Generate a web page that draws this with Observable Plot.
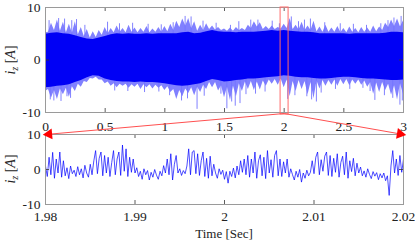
<!DOCTYPE html>
<html><head><meta charset="utf-8">
<script src="https://cdn.jsdelivr.net/npm/d3@7"></script>
<script src="https://cdn.jsdelivr.net/npm/@observablehq/plot@0.6"></script>
<style>
html,body{margin:0;padding:0;background:#fff;}
#chart{position:relative;width:415px;height:240px;overflow:hidden;font-family:"Liberation Serif",serif;}
#chart svg{position:absolute;left:0;top:0;}
.lab{position:absolute;font-family:"Liberation Serif",serif;color:#222;white-space:nowrap;line-height:1;}
.ylab{font-size:14px;transform:translate(-50%,-50%) rotate(-90deg);}
.xlab{font-size:13px;transform:translate(-50%,-50%);}
</style></head><body><div id="chart"></div>
<script>
// ---------- data ----------
// overview panel: envelope peaks of the current, every 0.05 s from 0 to 3 s
const topT0 = 0, topStep = 0.05;
const topUpperLight = [5.2,7.0,7.6,7.2,6.8,7.3,6.2,5.8,5.4,5.6, 6.2,6.0,6.5,6.0,6.6,6.1,6.0,6.4,5.9,6.2, 6.4,6.8,7.4,7.8,7.9,7.3,6.6,6.9,6.5,6.2, 5.9,6.1,6.2,6.0,6.6,7.3,7.1,6.4,6.5,6.2, 6.8,7.9,6.6,7.2,6.5,7.4,6.3,6.6,6.1,6.4, 6.0,6.3,6.0,6.2,6.1,6.5,6.3,7.0,7.6,7.8, 7.5];
const topLowerLight = [-6.0,-7.3,-7.5,-6.6,-7.1,-6.0,-5.2,-4.3,-3.6,-3.8, -4.5,-5.0,-5.3,-5.0,-5.4,-5.2,-5.6,-5.3,-5.5,-5.4, -5.8,-6.2,-7.5,-7.0,-6.4,-6.8,-6.2,-5.6,-5.3,-5.9, -7.2,-7.7,-7.0,-6.0,-5.6,-5.8,-5.7,-5.0,-4.6,-4.8, -5.3,-7.0,-6.0,-5.6,-6.6,-7.4,-5.5,-5.0,-4.8,-5.0, -4.7,-4.9,-4.6,-4.8,-5.2,-6.5,-6.2,-5.8,-6.7,-7.6, -6.5];
// envelope valleys, midway between the peaks (t = 0.025, 0.075, ...)
const topUpperValley = [5.3,5.6,5.5,5.2,5.1,4.8,4.5,4.2,4.3,4.7, 5.0,5.2,5.3,5.2,5.3,5.2,5.3,5.2,5.3,5.3, 5.4,5.6,6.2,6.5,6.0,5.5,5.6,5.8,5.7,5.6, 5.5,5.5,5.6,5.6,6.0,6.3,5.8,5.8,5.8,5.9, 6.0,5.8,5.7,5.6,5.6,5.4,5.3,5.3,5.3,5.2, 5.2,5.3,5.2,5.3,5.3,5.4,5.6,6.2,6.4,6.3];
const topLowerValley = [-5.6,-5.8,-5.5,-5.4,-5.1,-4.6,-4.1,-3.5,-3.3,-3.8, -4.2,-4.5,-4.6,-4.6,-4.7,-4.6,-4.7,-4.7,-4.8,-4.9, -5.1,-5.6,-5.8,-5.5,-5.3,-5.2,-4.8,-4.3,-4.3,-4.9, -5.2,-5.0,-4.5,-4.2,-4.1,-4.2,-4.0,-3.8,-3.7,-3.6, -3.8,-4.1,-3.9,-4.1,-4.3,-4.0,-3.9,-3.9,-3.8,-3.7, -3.7,-3.8,-3.8,-4.0,-4.3,-4.4,-4.3,-4.6,-4.9,-4.5];
// dense core of the signal, every 0.05 s
const topUpperDark = [4.9,5.1,5.2,5.0,4.9,4.6,4.3,4.0,3.9,4.2, 4.5,4.8,5.0,4.9,5.0,4.9,4.9,5.0,4.9,5.0, 5.0,5.0,5.0,5.2,5.3,5.0,5.1,5.4,5.6,5.4, 5.3,5.3,5.2,5.3,5.3,5.3,5.4,5.5,5.6,5.5, 5.6,5.5,5.4,5.3,5.3,5.2,5.0,5.0,5.0,5.0, 5.0,4.9,5.0,5.0,5.0,5.0,5.0,5.1,5.3,5.3, 5.2];
const topLowerDark = [-5.3,-5.2,-5.0,-4.9,-4.7,-4.3,-3.9,-3.4,-3.0,-3.1, -3.6,-3.9,-4.1,-4.2,-4.2,-4.3,-4.2,-4.3,-4.3,-4.4, -4.5,-4.7,-4.9,-5.0,-4.9,-4.7,-4.5,-4.1,-3.7,-3.9, -4.2,-4.1,-3.9,-3.8,-3.6,-3.6,-3.5,-3.4,-3.3,-3.2, -3.0,-3.1,-3.3,-3.4,-3.4,-3.5,-3.6,-3.6,-3.5,-3.4, -3.3,-3.3,-3.4,-3.5,-3.6,-3.6,-3.7,-3.8,-3.9,-3.9, -3.8];
// isolated spikes beyond the envelope
const spikeTimes  = [0.03,0.04,0.07,0.11,0.13,0.16,0.18,0.21,0.22,0.26,0.33,0.52,0.58,0.62,0.69,0.73,0.83,0.86,0.95,0.97,1.04,1.07,1.14,1.17,1.19,1.22,1.27,1.32,1.33,1.43,1.47,1.52,1.55,1.56,1.59,1.62,1.63,1.68,1.72,1.76,1.78,1.84,1.90,1.96,2.03,2.06,2.09,2.12,2.17,2.19,2.22,2.23,2.27,2.31,2.34,2.43,2.47,2.55,2.58,2.66,2.69,2.72,2.76,2.81,2.84,2.87,2.91,2.92,2.97,2.98,2.99];
const spikeValues = [7.5,-7.6,-7.8,7.9,-7.9,7.8,-7.0,-7.3,7.5,7.7,6.6,7.2,-5.9,6.9,-6.0,7.0,-6.2,6.8,-6.1,6.7,-6.8,7.1,-7.8,8.3,-7.4,8.2,-9.4,7.4,-6.9,7.0,-6.5,-9.3,6.6,-8.0,-8.8,7.3,-8.3,-6.6,7.6,-6.5,7.6,-6.1,7.4,6.9,-7.5,8.2,-6.8,7.3,7.6,-7.0,7.8,-7.6,-8.0,-6.3,7.1,-5.6,6.9,-5.6,6.8,-5.4,6.6,-6.0,-7.7,6.9,-6.8,7.5,-7.3,8.0,-8.6,8.3,-7.8];

// zoomed panel: samples every 0.2 ms from 1.98 s to 2.02 s
const zoomT0 = 1.98, zoomStep = 0.0002;
const zoomValues = [
 1.0,-2.0,3.5,-1.5,4.9,-2.5,3.0,-1.0,5.0,-2.2,
 2.5,-1.8,0.5,-2.6,1.0,-1.2,-0.2,-2.0,0.8,-1.5,
 0.2,-2.4,1.2,-1.0,-2.2,1.5,-1.5,2.5,5.4,-1.2,
 3.2,5.0,-1.8,4.0,-1.0,3.5,-2.0,2.0,5.4,-1.5,
 3.0,5.0,-1.7,7.0,-0.5,5.9,-2.0,3.5,-0.8,3.0,
 -1.0,0.5,-2.0,-0.5,-2.8,0.2,-1.5,-0.3,-3.0,-0.8,
 -2.2,0.0,-1.6,-2.8,-0.5,-1.8,1.1,-1.0,3.0,-1.5,
 4.5,-3.0,1.5,4.0,-1.0,0.2,-1.7,-0.3,-1.2,1.0,
 5.9,-1.5,5.0,5.4,-1.2,4.5,-1.7,2.5,5.0,-2.0,
 3.2,-2.5,3.8,-1.8,1.5,-1.0,-2.5,0.2,-1.4,-0.2,
 -2.8,-0.6,-3.9,-0.5,-2.0,0.4,-2.4,1.0,-1.5,2.5,
 -0.8,3.0,-1.5,4.0,-2.2,3.0,-1.0,5.0,-2.5,2.5,
 4.2,-1.8,3.5,-2.6,5.4,-1.0,2.8,-2.2,4.0,5.4,
 -1.8,3.0,-2.0,2.2,-1.0,3.0,-2.2,0.2,-1.5,-3.0,
 -0.5,-2.2,0.0,-3.6,-1.0,-2.5,-0.2,-1.8,-0.8,2.5,
 -1.2,3.5,5.0,-1.5,2.8,-0.5,3.8,5.0,-1.7,4.0,
 -2.0,3.2,-0.8,4.5,-2.2,2.0,3.8,-1.5,5.0,-2.5,
 2.5,-0.6,3.2,-1.8,1.8,-1.0,0.7,-1.8,-0.4,-2.2,
 0.2,-1.4,-2.6,-0.6,-1.9,-0.9,-2.9,-1.2,-2.4,-1.0,
 -3.2,-1.8,-7.4,1.0,5.4,-1.0,3.0,-1.7,4.0,-0.8,
 3.0];

const topXTicks = [0,0.5,1,1.5,2,2.5,3];
const zoomXTicks = [1.98,1.99,2,2.01,2.02];
const yTicks = [-10,0,10];
const zoomBox = [1.97, 2.037];   // red window drawn on the overview
const zoomCenter = 2.0;
const yLabel = ["i","z"," [","A","]"];
const xLabel = "Time [Sec]";

// ---------- build ----------
const W = 415, H = 240;
const topM = {top:7, bottom:128, left:45, right:12};
const botM = {top:134, bottom:36, left:45, right:12};
const innerW = W - topM.left - topM.right;

const darkData = topUpperDark.map((u,i)=>({t: topT0 + i*topStep, uD:u, lD: topLowerDark[i]}));
const lightData = [];
topUpperLight.forEach((u,i)=>{
  lightData.push({t: topT0 + i*topStep, u, l: topLowerLight[i]});
  if (i < topUpperValley.length) lightData.push({t: topT0 + (i+0.5)*topStep, u: topUpperValley[i], l: topLowerValley[i]});
});
const spikes = spikeTimes.map((t,i)=>({t, v: spikeValues[i]}));
const zoomData = zoomValues.map((v,i)=>({t: zoomT0 + i*zoomStep, v}));
const fmt = d => String(d);
const svgStyle = {background:"transparent", fontFamily:"Liberation Serif, serif", fontSize:"13.5px", color:"#222", overflow:"visible"};

function boxMarks(xTicks, innerH, pad) {
  const tk = {stroke:"#333", strokeWidth:0.8};
  return [
    Plot.tickX(xTicks, {x:d=>d, ...tk, insetTop: innerH-4}),
    Plot.tickX(xTicks, {x:d=>d, ...tk, insetBottom: innerH-4}),
    Plot.tickY(yTicks, {y:d=>d, ...tk, insetRight: innerW-4}),
    Plot.tickY(yTicks, {y:d=>d, ...tk, insetLeft: innerW-4}),
    Plot.frame({stroke:"#9a9a9a", strokeWidth:1}),
    Plot.axisX({ticks:xTicks, anchor:"bottom", tickSize:0, tickPadding:pad, tickFormat:fmt, label:null}),
    Plot.axisY({ticks:yTicks, anchor:"left", tickSize:0, tickPadding:5, tickFormat:fmt, label:null})
  ];
}

const topInnerH = H - topM.top - topM.bottom;
const topPlot = Plot.plot({
  width:W, height:H, marginTop:topM.top, marginBottom:topM.bottom, marginLeft:topM.left, marginRight:topM.right,
  style: svgStyle,
  x:{domain:[0,3]}, y:{domain:[-10,10]},
  marks:[
    Plot.areaY(lightData, {x:"t", y1:"l", y2:"u", fill:"#8080ff"}),
    Plot.ruleX(spikes, {x:"t", y1:0, y2:"v", stroke:"#7373ff", strokeWidth:0.9}),
    Plot.areaY(darkData, {x:"t", y1:"lD", y2:"uD", fill:"#0000f5"}),
    ...boxMarks(topXTicks, topInnerH, 9),
    Plot.rect([zoomBox], {x1:d=>d[0], x2:d=>d[1], y1:yTicks[0], y2:yTicks[2], insetBottom:-2, fill:"none", stroke:"#ff6a6a", strokeWidth:1})
  ]
});

const botInnerH = H - botM.top - botM.bottom;
const botPlot = Plot.plot({
  width:W, height:H, marginTop:botM.top, marginBottom:botM.bottom, marginLeft:botM.left, marginRight:botM.right,
  style: svgStyle,
  x:{domain:[zoomXTicks[0], zoomXTicks[zoomXTicks.length-1]]}, y:{domain:[-10,10]},
  marks:[
    Plot.line(zoomData, {x:"t", y:"v", stroke:"#0000ff", strokeWidth:0.7}),
    ...boxMarks(zoomXTicks, botInnerH, 7)
  ]
});

// connectors from the red window to the zoomed panel, positioned with both plots' scales
const tx = topPlot.scale("x"), ty = topPlot.scale("y");
const bx = botPlot.scale("x"), by = botPlot.scale("y");
const origin = {x: tx.apply(zoomCenter), y: ty.apply(yTicks[0]) + 1};
const ends = [zoomXTicks[0], zoomXTicks[zoomXTicks.length-1]].map(v => ({x: bx.apply(v), y: by.apply(yTicks[2])}));
const links = ends.map(e => {
  const dx = e.x - origin.x, dy = e.y - origin.y, L = Math.hypot(dx, dy);
  return {x1: origin.x, y1: origin.y, x2: e.x, y2: e.y, hx: e.x - dx/L*3.5, hy: e.y - dy/L*3.5, rot: Math.atan2(dx, -dy)*180/Math.PI};
});
const overlay = Plot.plot({
  width:W, height:H, margin:0,
  style:{background:"transparent", overflow:"visible"},
  x:{domain:[0,W], range:[0,W], axis:null}, y:{domain:[0,H], range:[0,H], axis:null},
  marks:[
    Plot.link(links, {x1:"x1", y1:"y1", x2:"x2", y2:"y2", stroke:"#ff5050", strokeWidth:1}),
    Plot.dot(links, {x:"hx", y:"hy", symbol:"triangle", r:4, fill:"#ff0000", stroke:"none", rotate:"rot"})
  ]
});

const chart = document.getElementById("chart");
chart.append(topPlot, botPlot, overlay);

function addLabel(html, cls, x, y) {
  const d = document.createElement("div");
  d.className = "lab " + cls; d.innerHTML = html;
  d.style.left = x + "px"; d.style.top = y + "px";
  chart.append(d);
}
const yLabHtml = `<i>${yLabel[0]}</i><sub style="font-size:10px;vertical-align:-3px"><i>${yLabel[1]}</i></sub>${yLabel[2]}<i>${yLabel[3]}</i>${yLabel[4]}`;
addLabel(yLabHtml, "ylab", 12, ty.apply(0));
addLabel(yLabHtml, "ylab", 12, by.apply(0));
addLabel(xLabel, "xlab", (bx.apply(zoomXTicks[0]) + bx.apply(zoomXTicks[4]))/2, 233);
</script></body></html>
